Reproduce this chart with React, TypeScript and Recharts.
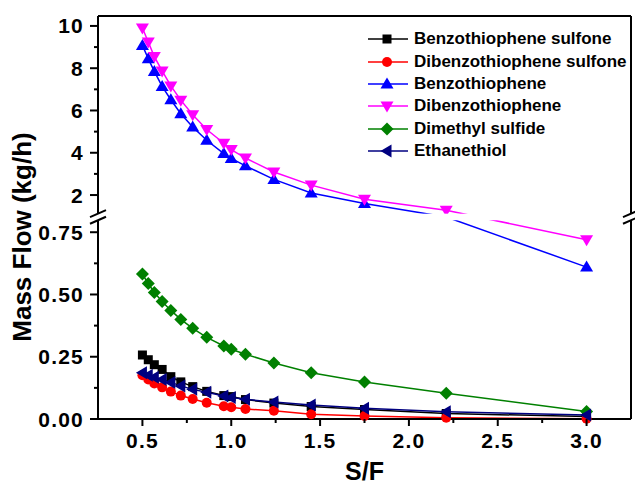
import React from "react";
import { LineChart, Line, XAxis, YAxis, Legend, ReferenceArea } from "recharts";

// S/F ratio (x) and mass flows in kg/h
const sf = [0.5, 0.533, 0.567, 0.611, 0.66, 0.716, 0.783, 0.862, 0.958, 1.0, 1.08, 1.24, 1.45, 1.75, 2.21, 3.0];
const benzothiopheneSulfone = [0.257, 0.238, 0.218, 0.199, 0.17, 0.149, 0.13, 0.111, 0.094, 0.09, 0.078, 0.064, 0.05, 0.038, 0.022, 0.01];
const dibenzothiopheneSulfone = [0.176, 0.159, 0.143, 0.127, 0.11, 0.094, 0.08, 0.065, 0.051, 0.047, 0.04, 0.033, 0.019, 0.012, 0.005, 0.001];
const benzothiophene = [9.08, 8.45, 7.85, 7.14, 6.51, 5.85, 5.22, 4.59, 3.96, 3.73, 3.38, 2.74, 2.1, 1.6, 0.95, 0.61];
const dibenzothiophene = [9.9, 9.24, 8.55, 7.87, 7.16, 6.49, 5.8, 5.1, 4.45, 4.15, 3.75, 3.09, 2.47, 1.8, 1.28, 0.72];
const dimethylSulfide = [0.582, 0.544, 0.508, 0.472, 0.436, 0.4, 0.364, 0.328, 0.293, 0.28, 0.26, 0.225, 0.186, 0.149, 0.103, 0.03];
const ethanethiol = [0.186, 0.176, 0.168, 0.159, 0.147, 0.133, 0.119, 0.107, 0.092, 0.086, 0.079, 0.068, 0.056, 0.043, 0.029, 0.016];

const xMajorTicks = [0.5, 1.0, 1.5, 2.0, 2.5, 3.0];
const xMinorTicks = [0.75, 1.25, 1.75, 2.25, 2.75];
const yMajorTicks = [0, 0.25, 0.5, 0.75, 2, 4, 6, 8, 10];
const yMinorTicks = [0.125, 0.375, 0.625, 3, 5, 7, 9];

// broken y axis: 0..0.8 below, 1..10.47 above
const BREAK_LO = 0.8;
const BREAK_HI = 1.0;
const LO_SCALE = 249.3;
const HI_SCALE = 21.16;
const GAP = 3.6;
const Y_TOP = 10.47;

function toAxis(v: number) {
  if (v <= BREAK_LO) return v * LO_SCALE;
  if (v < BREAK_HI) return BREAK_LO * LO_SCALE + ((v - BREAK_LO) / (BREAK_HI - BREAK_LO)) * GAP;
  return BREAK_LO * LO_SCALE + GAP + (v - BREAK_HI) * HI_SCALE;
}
const inBreak = (v: number) => v > BREAK_LO && v < BREAK_HI;

const FONT = '"Liberation Sans", Arial, sans-serif';

type Shape = "square" | "circle" | "up" | "down" | "diamond" | "left";

const series: { key: string; name: string; color: string; shape: Shape; values: number[] }[] = [
  { key: "bts", name: "Benzothiophene sulfone", color: "#000000", shape: "square", values: benzothiopheneSulfone },
  { key: "dbts", name: "Dibenzothiophene sulfone", color: "#ff0000", shape: "circle", values: dibenzothiopheneSulfone },
  { key: "bt", name: "Benzothiophene", color: "#0000ff", shape: "up", values: benzothiophene },
  { key: "dbt", name: "Dibenzothiophene", color: "#ff00ff", shape: "down", values: dibenzothiophene },
  { key: "dms", name: "Dimethyl sulfide", color: "#008000", shape: "diamond", values: dimethylSulfide },
  { key: "et", name: "Ethanethiol", color: "#000080", shape: "left", values: ethanethiol },
];

const data = sf.map((x, i) => {
  const row: Record<string, number> = { sf: x };
  series.forEach((s) => (row[s.key] = s.values[i]));
  return row;
});

function Marker({ shape, cx, cy, color }: { shape: Shape; cx: number; cy: number; color: string }) {
  const r = 6.5;
  switch (shape) {
    case "square":
      return <rect x={cx - 4.5} y={cy - 4.5} width={9} height={9} fill={color} />;
    case "circle":
      return <circle cx={cx} cy={cy} r={5} fill={color} />;
    case "up":
      return <polygon points={`${cx},${cy - r} ${cx + r},${cy + 4.5} ${cx - r},${cy + 4.5}`} fill={color} />;
    case "down":
      return <polygon points={`${cx - r},${cy - 4.5} ${cx + r},${cy - 4.5} ${cx},${cy + r}`} fill={color} />;
    case "diamond":
      return <polygon points={`${cx},${cy - r} ${cx + r},${cy} ${cx},${cy + r} ${cx - r},${cy}`} fill={color} />;
    default:
      return <polygon points={`${cx - r},${cy} ${cx + 4.5},${cy - r} ${cx + 4.5},${cy + r}`} fill={color} />;
  }
}

const XTick = ({ x, y, payload }: any) => {
  const major = xMajorTicks.includes(payload.value);
  return (
    <g>
      <line x1={x} x2={x} y1={y} y2={y + (major ? 7 : 4)} stroke="#000" strokeWidth={2} />
      {major && (
        <text x={x} y={y + 29} textAnchor="middle" fontFamily={FONT} fontWeight="bold" fontSize={21} letterSpacing={1.2} fill="#000">
          {payload.value.toFixed(1)}
        </text>
      )}
    </g>
  );
};

const YTick = ({ x, y, payload }: any) => {
  const real = [...yMajorTicks, ...yMinorTicks].find((t) => Math.abs(toAxis(t) - payload.value) < 1e-6) ?? 0;
  const major = yMajorTicks.includes(real);
  return (
    <g>
      <line x1={x - (major ? 8 : 4)} x2={x} y1={y} y2={y} stroke="#000" strokeWidth={2} />
      {major && (
        <text x={x - 14} y={y + 7.5} textAnchor="end" fontFamily={FONT} fontWeight="bold" fontSize={21} letterSpacing={1.2} fill="#000">
          {real < 1 ? real.toFixed(2) : String(real)}
        </text>
      )}
    </g>
  );
};

const BreakBand = ({ x, y, width, height }: any) => (
  <g>
    <rect x={x - 12} y={y} width={width + 24} height={height} fill="#fff" />
    {[x, x + width].map((ax: number) => (
      <g key={ax}>
        <line x1={ax - 8} y1={y + 3.5} x2={ax + 8} y2={y - 3.5} stroke="#000" strokeWidth={2} />
        <line x1={ax - 8} y1={y + height + 3.5} x2={ax + 8} y2={y + height - 3.5} stroke="#000" strokeWidth={2} />
      </g>
    ))}
  </g>
);

// keep the plotting order in the legend instead of the default alphabetical one
const LegendContent = ({ payload }: any) => {
  const shown = new Set((payload || []).map((e: any) => e.value));
  return (
    <div style={{ fontFamily: FONT, fontWeight: "bold", fontSize: 17, color: "#000" }}>
      {series
        .filter((s) => shown.has(s.name))
        .map((s) => (
          <div key={s.key} style={{ display: "flex", alignItems: "center", height: 22.4 }}>
            <svg width={44} height={22}>
              <line x1={2} x2={42} y1={11} y2={11} stroke={s.color} strokeWidth={1.5} />
              <Marker shape={s.shape} cx={21} cy={11} color={s.color} />
            </svg>
            <span style={{ marginLeft: 4, whiteSpace: "nowrap" }}>{s.name}</span>
          </div>
        ))}
    </div>
  );
};

export default function App() {
  const yMax = toAxis(Y_TOP);
  return (
    <div style={{ position: "absolute", left: 0, top: 0, background: "#fff" }}>
      <LineChart width={635} height={486} data={data} margin={{ top: 15, right: 3, bottom: 0, left: 0 }}>
        <XAxis
          xAxisId="bottom"
          dataKey="sf"
          type="number"
          domain={[0.25, 3.25]}
          ticks={[...xMajorTicks, ...xMinorTicks].sort((a, b) => a - b)}
          interval={0}
          height={67}
          tickSize={0}
          tickMargin={0}
          tickLine={false}
          tick={<XTick />}
          axisLine={{ stroke: "#000", strokeWidth: 2 }}
          label={{
            content: () => (
              <text x={364.5} y={480} textAnchor="middle" fontFamily={FONT} fontWeight="bold" fontSize={25} fill="#000">
                S/F
              </text>
            ),
          }}
        />
        <XAxis xAxisId="top" orientation="top" dataKey="sf" type="number" domain={[0.25, 3.25]} height={1} tick={false} tickLine={false} axisLine={{ stroke: "#000", strokeWidth: 2 }} />
        <YAxis
          yAxisId="left"
          type="number"
          domain={[0, yMax]}
          ticks={[...yMajorTicks, ...yMinorTicks].map(toAxis).sort((a, b) => a - b)}
          interval={0}
          width={98}
          tickSize={0}
          tickMargin={0}
          tickLine={false}
          tick={<YTick />}
          axisLine={{ stroke: "#000", strokeWidth: 2 }}
          label={{
            content: () => (
              <text x={22} y={237} transform="rotate(-90 22 237)" textAnchor="middle" dominantBaseline="central" fontFamily={FONT} fontWeight="bold" fontSize={26} fill="#000">
                Mass Flow (kg/h)
              </text>
            ),
          }}
        />
        <YAxis yAxisId="right" orientation="right" type="number" domain={[0, yMax]} width={1} tick={false} tickLine={false} axisLine={{ stroke: "#000", strokeWidth: 2 }} />
        {series.map((s) => (
          <Line
            key={s.key}
            xAxisId="bottom"
            yAxisId="left"
            name={s.name}
            dataKey={(row: any) => toAxis(row[s.key])}
            stroke={s.color}
            strokeWidth={1.5}
            isAnimationActive={false}
            dot={(p: any) =>
              inBreak(p.payload[s.key]) ? (
                <g key={`${s.key}-${p.index}`} />
              ) : (
                <Marker key={`${s.key}-${p.index}`} shape={s.shape} cx={p.cx} cy={p.cy} color={s.color} />
              )
            }
            activeDot={false}
          />
        ))}
        <ReferenceArea
          xAxisId="bottom"
          yAxisId="left"
          y1={toAxis(BREAK_LO) - 0.5}
          y2={toAxis(BREAK_HI) + 2.5}
          ifOverflow="visible"
          zIndex={1500}
          shape={<BreakBand />}
        />
        <Legend layout="vertical" align="center" verticalAlign="middle" wrapperStyle={{ left: 366, top: 28, width: 269 }} content={<LegendContent />} />
      </LineChart>
    </div>
  );
}
